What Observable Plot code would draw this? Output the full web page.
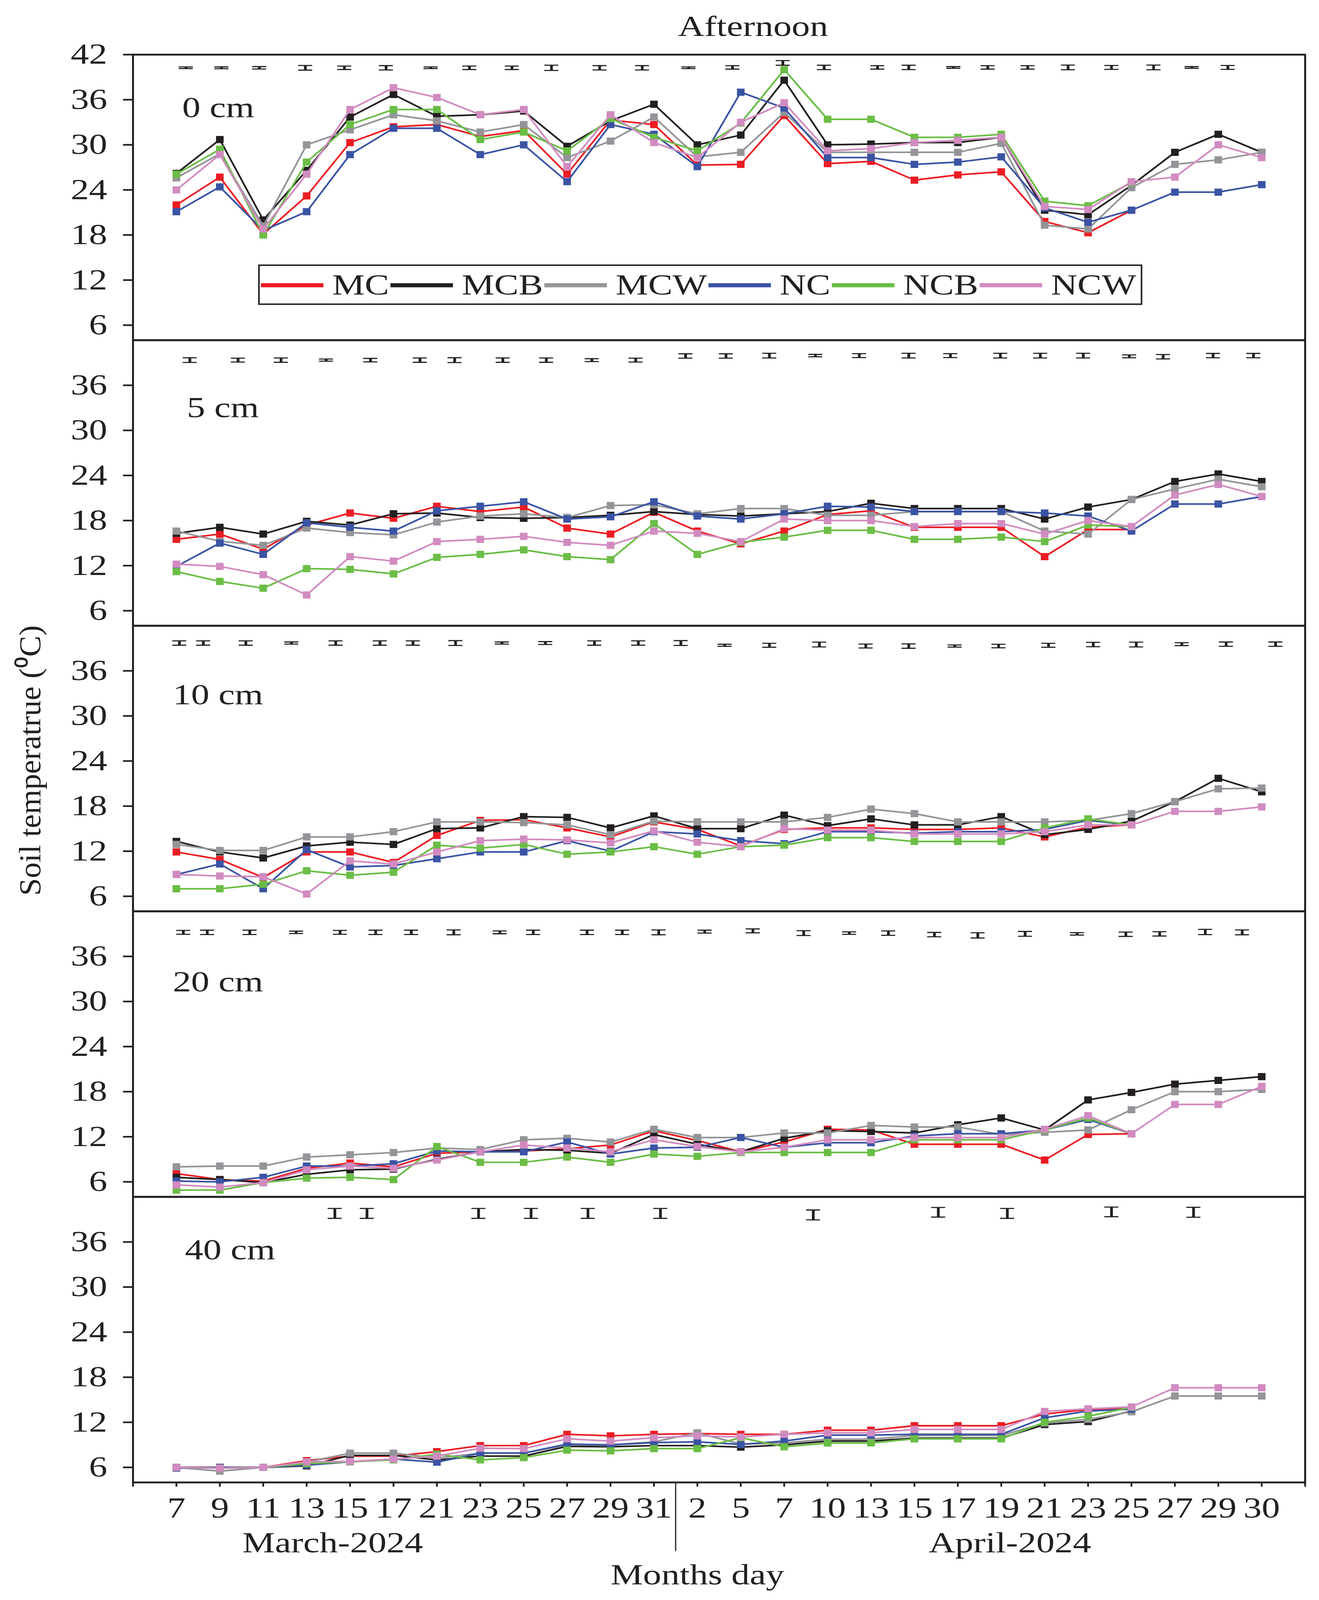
<!DOCTYPE html>
<html>
<head>
<meta charset="utf-8">
<script src="https://cdn.jsdelivr.net/npm/d3@7"></script>
<script src="https://cdn.jsdelivr.net/npm/@observablehq/plot@0.6"></script>
<style>
  html, body { margin: 0; padding: 0; background: white; overflow: hidden; }
  #chart svg { display: block; }
</style>
</head>
<body>
<div id="chart"></div>
<script>
// categories
const depths = ["0 cm", "5 cm", "10 cm", "20 cm", "40 cm"];
const days = ["7","9","11","13","15","17","21","23","25","27","29","31",
               "2","5","7","10","13","15","17","19","21","23","25","27","29","30"];
const months = ["March-2024", "April-2024"];
const monthAt = [3.6, 19.2];
const seriesNames = ["MC", "MCB", "MCW", "NC", "NCB", "NCW"];
const seriesColors = ["#ED1C24", "#231F20", "#939598", "#3A53A4", "#6ABD45", "#D18BC0"];

// soil temperature, one row per depth (0, 5, 10, 20, 40 cm)
const MC = [
  [22.0,25.7,18.1,23.2,30.3,32.4,32.7,31.1,31.9,26.1,33.3,32.7,27.3,27.4,33.9,27.5,27.8,25.3,26.0,26.4,19.8,18.3,21.3,null,null,null],
  [15.5,16.2,14.2,17.4,19.0,18.3,19.9,19.2,19.8,17.0,16.2,19.1,16.6,14.9,16.6,18.8,19.3,17.1,17.1,17.1,13.2,16.8,16.8,null,null,null],
  [11.9,10.9,8.5,11.9,11.9,10.5,14.1,16.1,16.2,15.1,13.9,15.9,14.9,12.7,14.9,15.1,15.1,14.9,14.9,15.1,13.9,15.2,15.5,null,null,null],
  [7.1,6.3,6.1,7.8,8.5,8.0,9.8,10.0,10.1,10.4,10.9,12.8,11.5,10.0,11.3,13.0,12.9,11.0,11.0,11.0,8.9,12.3,12.4,null,null,null],
  [6.0,6.0,6.0,6.9,7.5,7.5,8.1,8.9,8.9,10.4,10.2,10.4,10.5,10.4,10.4,10.95,10.95,11.55,11.55,11.55,13.1,13.7,13.9,null,null,null]
];
const MCB = [
  [26.2,30.7,20.0,26.6,33.7,36.7,33.8,34.0,34.5,29.8,33.2,35.4,30.0,31.3,38.6,30.0,30.1,30.3,30.3,31.0,21.3,20.7,24.6,29.0,31.4,29.0],
  [16.3,17.1,16.2,17.9,17.4,18.9,19.0,18.4,18.3,18.4,18.7,19.2,18.8,18.6,18.9,19.2,20.3,19.6,19.6,19.6,18.2,19.8,20.8,23.2,24.2,23.2],
  [13.3,11.9,11.1,12.7,13.2,12.9,15.0,15.1,16.6,16.5,15.1,16.7,15.0,15.0,16.8,15.4,16.3,15.5,15.5,16.6,14.2,14.9,16.0,18.6,21.7,19.9],
  [6.6,6.3,5.9,7.0,7.6,7.7,9.0,10.0,10.3,10.2,9.8,12.3,11.0,10.0,11.8,12.8,12.7,12.5,13.6,14.5,12.9,16.9,17.9,19.0,19.5,20.0],
  [6.0,6.0,6.0,6.2,7.6,7.6,7.0,7.5,7.5,8.8,8.75,8.9,8.9,8.7,9.0,9.5,9.5,9.9,9.9,9.9,11.7,12.1,13.5,null,null,null]
];
const MCW = [
  [25.6,28.8,19.2,30.0,32.0,34.0,33.2,31.7,32.7,28.3,30.5,33.7,28.4,29.0,34.3,29.0,29.0,29.0,29.0,30.2,19.3,18.8,24.3,27.4,28.0,29.0],
  [16.6,15.25,14.7,17.0,16.4,16.1,17.8,18.6,18.9,18.4,20.0,20.1,18.9,19.6,19.6,18.7,18.7,19.2,19.2,19.2,16.6,16.2,20.8,22.2,23.5,22.5],
  [12.9,12.1,12.1,13.9,13.9,14.6,15.9,15.9,15.8,15.5,14.2,16.0,15.9,15.9,15.9,16.5,17.6,17.0,15.9,15.9,15.9,16.1,17.0,18.6,20.3,20.4],
  [8.0,8.1,8.1,9.3,9.6,9.9,10.5,10.3,11.6,11.8,11.3,13.0,11.9,11.9,12.5,12.5,13.5,13.3,13.3,12.3,12.6,12.9,15.6,18.0,18.0,18.3],
  [6.0,5.5,6.0,6.7,7.9,7.9,7.25,7.9,7.9,9.0,9.0,9.4,10.6,9.1,9.25,9.75,9.75,10.25,10.25,10.25,11.9,12.4,13.4,15.5,15.5,15.5]
];
const NC = [
  [21.1,24.4,18.6,21.1,28.7,32.2,32.2,28.7,30.0,25.1,32.7,31.4,27.1,37.0,34.9,28.3,28.3,27.4,27.7,28.4,21.6,19.7,21.3,23.7,23.7,24.7],
  [11.9,15.0,13.5,17.7,17.1,16.6,19.3,19.9,20.5,18.2,18.5,20.5,18.6,18.2,18.9,19.9,19.8,19.2,19.2,19.2,19.0,18.6,16.6,20.2,20.2,21.2],
  [8.9,10.3,7.0,12.2,9.9,10.1,11.0,11.9,11.9,13.4,12.0,14.6,14.3,13.4,13.0,14.6,14.6,14.4,14.6,14.6,14.9,16.1,15.5,null,null,null],
  [6.1,6.0,6.6,8.1,8.1,8.4,10.1,10.0,10.0,11.3,9.7,10.5,10.6,11.9,10.6,11.2,11.2,12.1,12.4,12.4,12.9,14.3,12.4,null,null,null],
  [5.9,6.0,6.0,6.3,6.75,7.1,6.7,7.9,7.9,9.1,9.0,9.3,9.4,9.05,9.5,10.3,10.3,10.4,10.4,10.4,12.6,13.5,13.75,null,null,null]
];
const NCB = [
  [26.1,29.4,18.0,27.7,32.7,34.7,34.7,30.7,31.7,29.2,33.5,31.0,29.2,32.9,40.0,33.4,33.4,31.0,31.0,31.4,22.5,21.9,25.0,null,null,null],
  [11.2,9.9,9.0,11.6,11.5,10.9,13.1,13.5,14.1,13.2,12.8,17.6,13.5,15.1,15.8,16.7,16.7,15.5,15.5,15.8,15.2,17.4,17.2,null,null,null],
  [7.0,7.0,7.6,9.4,8.8,9.2,12.8,12.4,12.9,11.6,11.9,12.6,11.6,12.6,12.8,13.8,13.8,13.3,13.3,13.3,15.1,16.3,15.5,null,null,null],
  [4.9,4.9,5.9,6.5,6.6,6.3,10.7,8.6,8.6,9.3,8.6,9.7,9.4,9.9,9.9,9.9,9.9,11.6,11.6,11.6,12.9,14.5,12.4,null,null,null],
  [6.0,5.9,6.0,6.5,6.75,7.0,7.75,7.0,7.3,8.3,8.2,8.5,8.5,9.95,8.75,9.25,9.25,9.8,9.8,9.8,12.0,12.8,14.0,null,null,null]
];
const NCW = [
  [24.0,28.7,18.8,26.1,34.7,37.6,36.3,34.0,34.7,27.1,34.0,30.3,28.3,33.0,35.6,29.2,29.5,30.3,30.6,31.0,21.8,21.4,25.1,25.7,30.0,28.3],
  [12.2,11.9,10.8,8.1,13.2,12.6,15.2,15.5,15.9,15.1,14.7,16.6,16.3,15.2,18.2,18.0,18.0,17.2,17.6,17.6,16.2,18.0,17.2,21.4,22.8,21.2],
  [8.9,8.7,8.6,6.3,10.7,10.3,11.9,13.4,13.6,13.5,13.1,14.7,13.2,12.6,15.0,14.8,14.8,14.3,14.3,14.3,14.6,15.5,15.5,17.3,17.3,17.9],
  [5.6,5.3,5.9,7.6,8.1,7.8,8.9,10.0,10.9,10.5,10.0,11.6,10.7,10.0,10.6,11.6,11.6,11.9,11.9,11.9,13.0,14.8,12.4,16.3,16.3,18.7],
  [6.0,5.9,6.0,6.75,6.8,7.1,7.5,8.55,8.5,9.8,9.5,9.95,10.2,10.05,10.4,10.6,10.6,11.05,11.05,11.05,13.45,13.8,14.05,16.6,16.6,16.6]
];

// error bars drawn near the top of each panel (position on the day axis, centre, half-length)
const errX = [
  [0.22,1.04,1.91,2.97,3.87,4.83,5.86,6.75,7.73,8.64,9.75,10.73,11.8,12.81,13.97,14.92,16.15,16.87,17.9,18.69,19.61,20.54,21.54,22.51,23.39,24.22],
  [0.31,1.42,2.41,3.45,4.47,5.61,6.41,7.52,8.52,9.57,10.58,11.73,12.66,13.66,14.72,15.73,16.87,17.83,18.98,19.9,20.89,21.95,22.73,23.88,24.81],
  [0.07,0.62,1.6,2.65,3.67,4.69,5.45,6.43,7.5,8.5,9.63,10.64,11.62,12.63,13.66,14.81,15.88,16.87,17.93,18.94,20.09,21.12,22.11,23.16,24.18,25.32],
  [0.16,0.71,1.69,2.76,3.77,4.59,5.41,6.39,7.45,8.22,9.46,10.27,11.11,12.17,13.28,14.45,15.5,16.4,17.46,18.46,19.55,20.75,21.87,22.65,23.7,24.55],
  [3.65,4.39,6.96,8.17,9.48,11.15,14.67,17.55,19.14,21.54,23.43]
];
const errY = [
  [40.25,40.25,40.25,40.25,40.25,40.25,40.25,40.25,40.25,40.25,40.25,40.25,40.25,40.3,40.9,40.3,40.3,40.3,40.3,40.3,40.3,40.3,40.3,40.3,40.3,40.3],
  [39.35,39.35,39.35,39.35,39.35,39.35,39.35,39.35,39.35,39.35,39.35,39.9,39.9,39.95,39.95,39.95,39.95,39.95,39.95,39.95,39.95,39.85,39.8,39.95,39.95],
  [39.7,39.7,39.7,39.7,39.7,39.7,39.7,39.7,39.7,39.7,39.7,39.7,39.7,39.4,39.4,39.5,39.3,39.3,39.3,39.3,39.4,39.5,39.5,39.55,39.55,39.55],
  [39.2,39.2,39.2,39.2,39.2,39.2,39.2,39.2,39.2,39.2,39.2,39.2,39.2,39.3,39.4,39.1,39.1,39.1,38.9,38.8,39.0,39.0,38.95,39.0,39.25,39.2],
  [39.8,39.8,39.8,39.8,39.8,39.8,39.6,39.95,39.8,40.0,39.95]
];
const errH = [
  [0.11,0.12,0.16,0.31,0.23,0.29,0.11,0.23,0.23,0.35,0.29,0.29,0.11,0.23,0.31,0.29,0.23,0.29,0.11,0.23,0.23,0.31,0.26,0.31,0.11,0.26],
  [0.31,0.26,0.29,0.14,0.23,0.29,0.32,0.29,0.29,0.19,0.26,0.29,0.29,0.31,0.16,0.26,0.31,0.26,0.31,0.31,0.31,0.19,0.29,0.29,0.29],
  [0.29,0.29,0.29,0.14,0.29,0.29,0.29,0.32,0.14,0.19,0.29,0.29,0.32,0.14,0.26,0.32,0.26,0.29,0.14,0.23,0.26,0.29,0.32,0.19,0.29,0.29],
  [0.26,0.29,0.29,0.16,0.26,0.29,0.29,0.32,0.19,0.29,0.29,0.29,0.32,0.19,0.26,0.32,0.16,0.29,0.29,0.35,0.32,0.16,0.29,0.29,0.35,0.32],
  [0.66,0.66,0.66,0.66,0.66,0.66,0.66,0.64,0.66,0.64,0.66]
];

// layout (pixels of the 3377 x 4348 drawing)
const W = 3377, H = 4348;
const frameL = 340, frameR = 3341, frameT = 147, frameB = 4029;
const panelH = (frameB - frameT) / depths.length;
const pxX = (frameR - frameL) / 27;
const pxY = panelH / 38;
const toX = px => -1 + (px - frameL) / pxX;
const toY = dy => 42 - dy / pxY;          // dy = pixels below a panel's top edge
const stretch = 1.2;                      // the source type is set a little wide
const ink = "#231F20";
const font = "'Liberation Serif', 'Times New Roman', serif";
const labelPx = [466, 478, 442, 442, 473];
const labelDy = [145, 184, 189, 193, 145];
const cap = 18 / pxX;

// rows for the library
const table = [MC, MCB, MCW, NC, NCB, NCW];
const rows = [];
seriesNames.forEach((s, k) => depths.forEach((d, j) => table[k][j].forEach((v, i) => {
  if (v != null) rows.push({series: s, depth: d, i: i, v: v});
})));
const errRows = [];
depths.forEach((d, j) => errX[j].forEach((x, k) => {
  errRows.push({depth: d, x: x, lo: errY[j][k] - errH[j][k], hi: errY[j][k] + errH[j][k]});
}));

// legend layout from the measured labels
const ctx = document.createElement("canvas").getContext("2d");
ctx.font = "78px " + font;
let cur = 668;
const legendRows = seriesNames.map(s => {
  const w = ctx.measureText(s).width * stretch;
  const r = {series: s, depth: "0 cm", x1: toX(cur), x2: toX(cur + 160), tx: toX(cur + 182)};
  cur += 160 + 22 + w + 4;
  return r;
});
const legendBox = [{depth: "0 cm", x1: toX(663), x2: toX(cur + 10), y1: toY(720 - frameT), y2: toY(826 - frameT)}];
const legendY = toY(774 - frameT);

const seriesMarks = seriesNames.flatMap(s => {
  const data = rows.filter(r => r.series === s);
  return [
    Plot.line(data, {x: "i", y: "v", fy: "depth", stroke: "series", strokeWidth: 4.5}),
    Plot.dot(data, {x: "i", y: "v", fy: "depth", fill: "series", symbol: "square", r: 11})
  ];
});

const plot = Plot.plot({
  width: W,
  height: H,
  marginLeft: frameL,
  marginRight: W - frameR,
  marginTop: frameT,
  marginBottom: H - frameB,
  style: {fontFamily: font, fontSize: "78px", color: ink, background: "white", overflow: "visible"},
  x: {type: "linear", domain: [-1, 26]},
  y: {domain: [4, 42]},
  fy: {domain: depths, padding: 0, axis: null},
  color: {domain: seriesNames, range: seriesColors},
  marks: [
    ...seriesMarks,
    // error bars
    Plot.ruleX(errRows, {x: "x", y1: "lo", y2: "hi", fy: "depth", stroke: ink, strokeWidth: 7}),
    Plot.ruleY(errRows, {y: "lo", x1: d => d.x - cap, x2: d => d.x + cap, fy: "depth", stroke: ink, strokeWidth: 3}),
    Plot.ruleY(errRows, {y: "hi", x1: d => d.x - cap, x2: d => d.x + cap, fy: "depth", stroke: ink, strokeWidth: 3}),
    // panel names
    Plot.text(depths, {fy: d => d, x: (d, i) => toX(labelPx[i]), y: (d, i) => toY(labelDy[i]),
      text: d => d, textAnchor: "start", fill: ink}),
    // legend
    Plot.rect(legendBox, {x1: "x1", x2: "x2", y1: "y1", y2: "y2", fy: "depth", fill: "white", stroke: ink, strokeWidth: 4}),
    Plot.ruleY(legendRows, {y: legendY, x1: "x1", x2: "x2", fy: "depth", stroke: "series", strokeWidth: 11}),
    Plot.text(legendRows, {x: "tx", y: legendY, fy: "depth", text: "series", textAnchor: "start", fill: ink}),
    // title
    Plot.text(["Afternoon"], {fy: () => "0 cm", frameAnchor: "top", lineAnchor: "middle", dx: 87, dy: -76,
      text: d => d, fill: ink}),
    // y axis
    Plot.axisY({ticks: [6, 12, 18, 24, 30, 36], tickSize: 25, tickPadding: 41, strokeWidth: 4.5, label: null}),
    Plot.axisY({ticks: [42], tickSize: 25, tickPadding: 41, strokeWidth: 4.5, label: null, facetAnchor: "top"}),
    Plot.text(["Soil temperatrue (\u2070C)"], {fy: () => "10 cm", frameAnchor: "left", textAnchor: "middle",
      lineAnchor: "middle", dx: -262, dy: -22, rotate: -90, text: d => d, fill: ink}),
    // x axis and month captions
    Plot.axisX({ticks: d3.range(-1, 27), tickFormat: i => days[i] ?? "", tickSize: 12, tickPadding: 28,
      strokeWidth: 4.5, label: null}),
    Plot.ruleX([11.5], {fy: () => "40 cm", y1: 4, y2: 4 - 187 / pxY, stroke: ink, strokeWidth: 3}),
    Plot.text(months, {fy: () => "40 cm", x: (d, i) => monthAt[i], frameAnchor: "bottom", lineAnchor: "middle",
      dy: 165, text: d => d, fill: ink}),
    Plot.text(["Months day"], {fy: () => "40 cm", x: () => 12, frameAnchor: "bottom", lineAnchor: "middle",
      dy: 252, text: d => d, fill: ink}),
    Plot.frame({stroke: ink, strokeWidth: 5})
  ]
});

document.querySelector("#chart").append(plot);

// widen glyphs like the source lettering
plot.querySelectorAll("text").forEach(t => {
  const w = t.getComputedTextLength();
  if (!w) return;
  const k = (t.getAttribute("transform") || "").includes("rotate") ? 1.1 : stretch;
  t.setAttribute("textLength", w * k);
  t.setAttribute("lengthAdjust", "spacingAndGlyphs");
});

// the window is shorter than the drawing: fit the whole figure into it
plot.setAttribute("preserveAspectRatio", "none");
plot.style.width = (window.innerWidth || W) + "px";
plot.style.height = (window.innerHeight || H) + "px";
plot.style.maxWidth = "none";
</script>
</body>
</html>
